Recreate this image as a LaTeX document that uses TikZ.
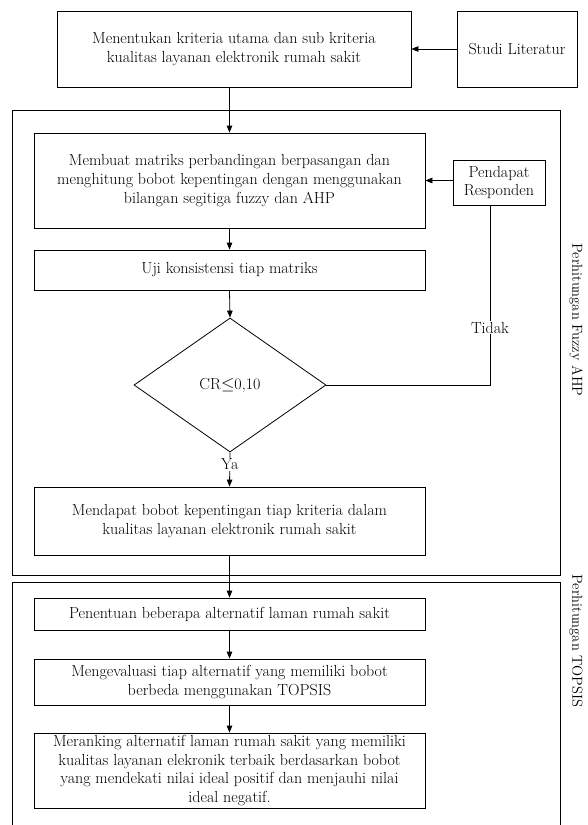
\documentclass[tikz,border=0pt]{standalone}
\usetikzlibrary{shapes.geometric,arrows.meta}
\begin{document}
\begin{tikzpicture}[x=1pt,y=-1pt,
  box/.style={draw, line width=0.8pt, rectangle, align=center, inner sep=2pt,
    font=\fontsize{16}{18.6}\selectfont},
  dia/.style={draw, line width=0.8pt, diamond, inner sep=0pt,
    font=\fontsize{16}{18.6}\selectfont},
  lbl/.style={font=\fontsize{16}{18.6}\selectfont, inner sep=1pt},
  side/.style={font=\fontsize{14.5}{17}\selectfont, inner sep=1pt},
  arr/.style={-{Triangle[length=7pt,width=5.5pt]}, line width=0.8pt},
  ln/.style={line width=0.8pt},
  frm/.style={draw, line width=0.8pt}
]
\useasboundingbox (0,0) rectangle (587,825);
\fill[white] (0,0) rectangle (587,825);

% frames
\draw[frm] (12,110) rectangle (560,575);
\draw[frm] (12,830) -- (12,582) -- (560,582) -- (560,830);

% nodes
\node[box, minimum width=354pt, minimum height=76pt] (b1) at (234,49)
  {Menentukan kriteria utama dan sub kriteria\\kualitas layanan elektronik rumah sakit};
\node[box, minimum width=120pt, minimum height=76pt] (sl) at (517,49) {Studi Literatur};
\node[box, minimum width=391pt, minimum height=95pt] (b2) at (229.5,180.5)
  {Membuat matriks perbandingan berpasangan dan\\menghitung bobot kepentingan dengan menggunakan\\bilangan segitiga fuzzy dan AHP};
\node[box, minimum width=92pt, minimum height=45pt] (pr) at (499,182.5) {Pendapat\\Responden};
\node[box, minimum width=391pt, minimum height=40pt] (b3) at (229.5,270) {Uji konsistensi tiap matriks};
\node[dia, minimum width=192pt, minimum height=134pt] (d) at (230,385) {CR$\leq$0,10};
\node[box, minimum width=391pt, minimum height=68pt] (b4) at (229.5,521)
  {Mendapat bobot kepentingan tiap kriteria dalam\\kualitas layanan elektronik rumah sakit};
\node[box, minimum width=391pt, minimum height=32pt] (b5) at (229.5,614)
  {Penentuan beberapa alternatif laman rumah sakit};
\node[box, minimum width=391pt, minimum height=46pt] (b6) at (229.5,682)
  {Mengevaluasi tiap alternatif yang memiliki bobot\\berbeda menggunakan TOPSIS};
\node[box, minimum width=391pt, minimum height=75pt] (b7) at (229.5,770.5)
  {Meranking alternatif laman rumah sakit yang memiliki\\kualitas layanan elekronik terbaik berdasarkan bobot\\yang mendekati nilai ideal positif dan menjauhi nilai\\ideal negatif.};

% side labels
\node[side, rotate=-90] (fa) at (576,320) {Perhitungan Fuzzy AHP};
\node[side, rotate=-90] (tp) at (576,641) {Perhitungan TOPSIS};

% connectors
\draw[arr] (sl.west) -- (b1.east);
\draw[arr] (b1.south -| b2.north) -- (b2.north);
\draw[arr] (pr.west |- b2.east) -- (b2.east);
\draw[arr] (b2.south) -- (b3.north);
\draw[arr] (b3.south) -- (d.north);
\coordinate (tc) at (490,385);
\draw[ln] (d.east) -- (tc) -- (tc |- pr.south)
  node[pos=0.32, lbl, fill=white] (td) {Tidak};
\draw[arr] (d.south) -- node[pos=0.35, lbl, fill=white] (ya) {Ya} (b4.north);
\draw[arr] (b4.south) -- (b5.north);
\draw[arr] (b5.south) -- (b6.north);
\draw[arr] (b6.south) -- (b7.north);
\end{tikzpicture}
\end{document}
